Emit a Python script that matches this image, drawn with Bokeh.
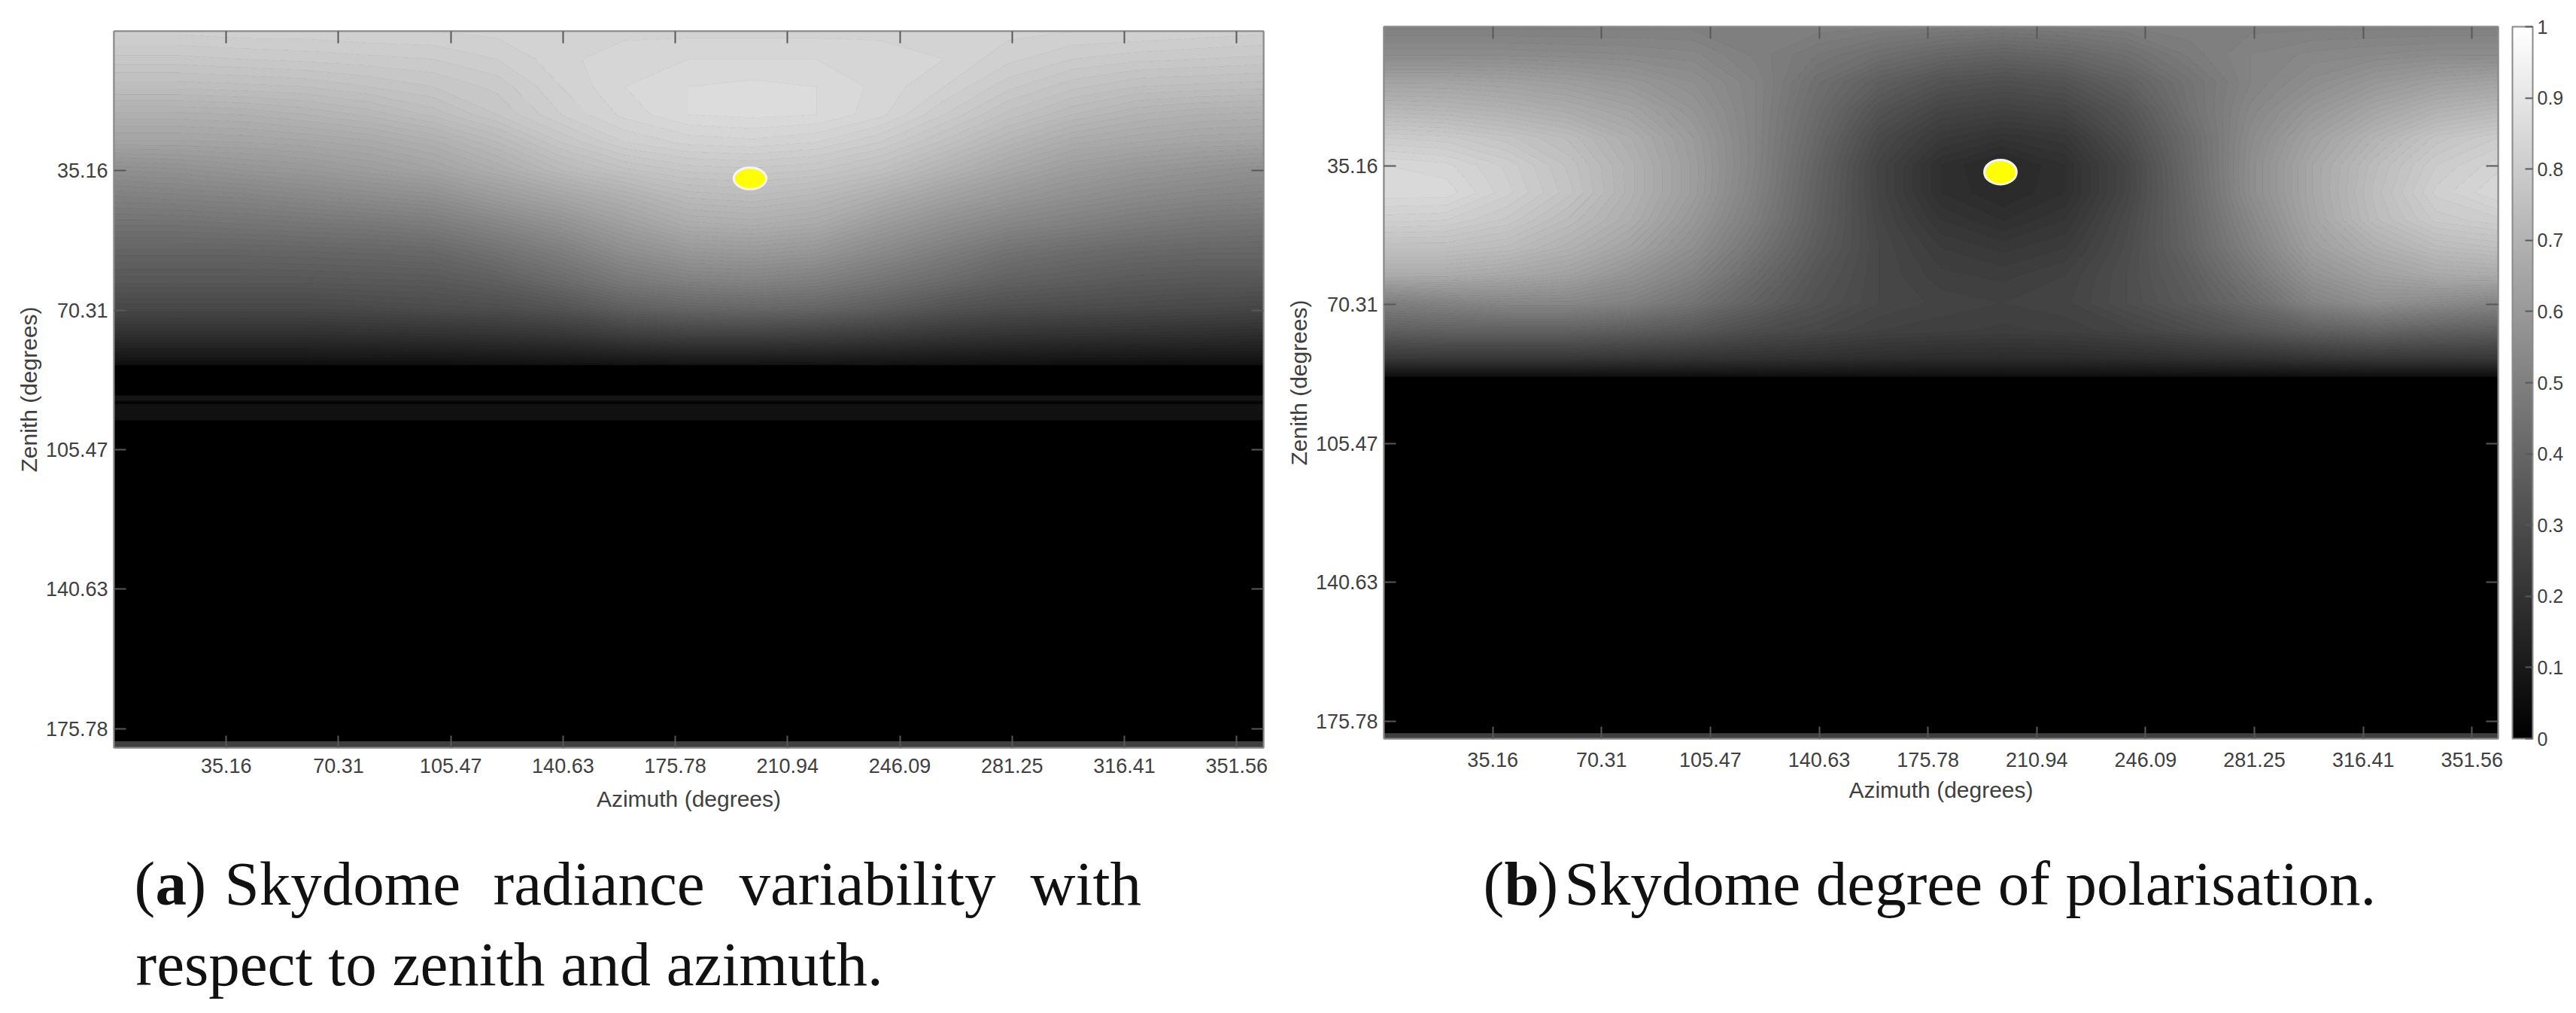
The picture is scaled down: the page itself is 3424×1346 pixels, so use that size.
import numpy as np
from bokeh.embed import file_html
from bokeh.resources import INLINE
from bokeh.plotting import figure
from bokeh.layouts import row, column
from bokeh.models import (LinearColorMapper, FixedTicker, LinearAxis, Label, ColorBar, Range1d)

# ---------- data ----------
x_ticks = [35.16, 70.31, 105.47, 140.63, 175.78, 210.94, 246.09, 281.25, 316.41, 351.56]
y_ticks = [35.16, 70.31, 105.47, 140.63, 175.78]
cbar_ticks = [0, 0.1, 0.2, 0.3, 0.4, 0.5, 0.6, 0.7, 0.8, 0.9, 1]

az_nodes = [0, 20, 40, 60, 80, 100, 120, 140, 160, 180, 200, 220, 240, 260, 280, 300, 320, 340, 360]
radiance_zen = [0, 7, 14, 21, 28, 35, 42, 49, 56, 63, 70, 77, 84.2]
polar_zen = [0, 7, 14, 21, 28, 35, 42, 49, 56, 63, 70, 77, 84, 88.6]

# grey level (0-255) read at each zenith (row) and azimuth (column)
radiance_levels = [
    [0xD0,0xD0,0xD1,0xD1,0xD2,0xD2,0xD3,0xD3,0xD4,0xD4,0xD4,0xD4,0xD4,0xD3,0xD3,0xD2,0xD2,0xD1,0xD0],
    [0xC8,0xC8,0xC9,0xCA,0xCB,0xCC,0xCF,0xD4,0xD7,0xD8,0xD8,0xD8,0xD7,0xD5,0xD0,0xCC,0xCA,0xC9,0xC8],
    [0xBE,0xBE,0xBF,0xC0,0xC3,0xC6,0xCA,0xD2,0xD8,0xDB,0xDC,0xDB,0xD7,0xD2,0xCA,0xC4,0xC0,0xBF,0xBE],
    [0xB0,0xB0,0xB1,0xB4,0xB8,0xBE,0xC6,0xCF,0xD6,0xDB,0xDC,0xDB,0xD6,0xCC,0xC2,0xBA,0xB4,0xB1,0xB0],
    [0xA4,0xA4,0xA5,0xA7,0xAA,0xB0,0xBA,0xC6,0xCF,0xD3,0xD4,0xD2,0xCC,0xC2,0xB6,0xAC,0xA8,0xA5,0xA4],
    [0x90,0x92,0x96,0x99,0x9E,0xA4,0xAE,0xBA,0xC2,0xC7,0xC8,0xC6,0xC0,0xB4,0xA8,0x9E,0x98,0x94,0x90],
    [0x80,0x82,0x84,0x88,0x8C,0x90,0x9C,0xA6,0xB0,0xBA,0xBC,0xB8,0xAE,0xA2,0x98,0x90,0x8A,0x86,0x84],
    [0x72,0x72,0x74,0x76,0x78,0x7C,0x86,0x92,0xA0,0xAC,0xAE,0xAA,0x9C,0x90,0x86,0x80,0x7A,0x76,0x74],
    [0x64,0x64,0x64,0x65,0x66,0x68,0x72,0x7E,0x8E,0x98,0x9A,0x96,0x8A,0x7E,0x72,0x6C,0x68,0x66,0x66],
    [0x58,0x58,0x58,0x58,0x59,0x5A,0x60,0x6C,0x7A,0x82,0x84,0x80,0x76,0x6C,0x62,0x5E,0x5A,0x58,0x58],
    [0x48,0x48,0x48,0x48,0x4A,0x4C,0x4E,0x54,0x60,0x66,0x68,0x66,0x5E,0x54,0x4E,0x4C,0x4A,0x48,0x46],
    [0x2E,0x2E,0x2E,0x2E,0x2F,0x30,0x32,0x35,0x3C,0x40,0x40,0x3E,0x3A,0x35,0x32,0x30,0x2F,0x2E,0x2C],
    [0x10,0x10,0x10,0x10,0x10,0x10,0x11,0x12,0x13,0x14,0x14,0x14,0x13,0x12,0x11,0x10,0x10,0x10,0x10],
]
polar_levels = [
    [0x80,0x80,0x80,0x80,0x80,0x80,0x80,0x80,0x7E,0x7C,0x7A,0x7C,0x7E,0x80,0x80,0x80,0x80,0x80,0x80],
    [0x8C,0x8C,0x8C,0x8B,0x8A,0x88,0x80,0x78,0x70,0x68,0x64,0x68,0x70,0x7C,0x84,0x88,0x8A,0x8C,0x8C],
    [0xA4,0xA4,0xA2,0x9E,0x98,0x90,0x84,0x70,0x60,0x54,0x50,0x54,0x62,0x74,0x84,0x8E,0x98,0xA0,0xA4],
    [0xB8,0xB6,0xB2,0xAC,0xA4,0x96,0x84,0x6C,0x54,0x46,0x42,0x46,0x56,0x72,0x88,0x98,0xA6,0xB2,0xB8],
    [0xCC,0xCA,0xC4,0xBC,0xAE,0x9C,0x84,0x68,0x4A,0x3A,0x34,0x38,0x4E,0x6C,0x8C,0xA2,0xB4,0xC4,0xCC],
    [0xD8,0xD6,0xCE,0xC2,0xB2,0x9E,0x84,0x64,0x44,0x30,0x28,0x30,0x46,0x6A,0x8E,0xA8,0xBC,0xCC,0xD4],
    [0xDA,0xDA,0xD0,0xC4,0xB2,0x9E,0x82,0x62,0x44,0x30,0x2A,0x30,0x46,0x68,0x8E,0xA8,0xBE,0xD0,0xD8],
    [0xD0,0xCF,0xC8,0xBC,0xAE,0x98,0x7E,0x60,0x46,0x36,0x30,0x36,0x4A,0x66,0x88,0xA6,0xBC,0xCA,0xCE],
    [0xC0,0xC0,0xBC,0xB2,0xA4,0x90,0x76,0x5C,0x48,0x3C,0x38,0x3C,0x4C,0x64,0x82,0xA0,0xB0,0xBC,0xC0],
    [0xAC,0xAC,0xA8,0xA2,0x94,0x84,0x6C,0x56,0x48,0x40,0x3E,0x42,0x4E,0x5E,0x78,0x94,0xA2,0xAA,0xAC],
    [0x80,0x84,0x88,0x88,0x82,0x74,0x62,0x52,0x48,0x44,0x42,0x44,0x4E,0x5A,0x6C,0x84,0x90,0x8C,0x86],
    [0x60,0x62,0x62,0x62,0x5E,0x58,0x4E,0x48,0x42,0x40,0x3E,0x40,0x44,0x4C,0x56,0x60,0x66,0x62,0x60],
    [0x38,0x38,0x38,0x38,0x36,0x34,0x32,0x30,0x2E,0x2C,0x2C,0x2C,0x2E,0x30,0x32,0x36,0x38,0x38,0x38],
    [0x10,0x10,0x10,0x10,0x10,0x10,0x10,0x10,0x10,0x10,0x10,0x10,0x10,0x10,0x10,0x10,0x10,0x10,0x10],
]
# horizontal bands below the sky: zenith from, zenith to, value
radiance_bands_from = [84.2, 91.8, 93.2, 94.0, 98.1, 179.0]
radiance_bands_to   = [91.8, 93.2, 94.0, 98.1, 179.0, 180.6]
radiance_bands_val  = [0.0, 0.08, 0.02, 0.07, 0.0, 0.25]
polar_bands_from = [88.6, 178.8]
polar_bands_to   = [178.8, 180.2]
polar_bands_val  = [0.0, 0.25]

sun_az = 199.2
sun_zen_a = 37.1
sun_zen_b = 36.8

caption_a_line1 = ["Skydome", "radiance", "variability", "with"]
caption_a_line2 = "respect to zenith and azimuth."
caption_b_rest = "Skydome degree of polarisation."
xlabel = "Azimuth (degrees)"
ylabel = "Zenith (degrees)"

# ---------- style ----------
grays = ["#%02x%02x%02x" % (i, i, i) for i in range(256)]
mapper = LinearColorMapper(palette=grays, low=0, high=1)
TICK = "#585858"
LINE = "#8a8a8a"
TXT = "#404040"
FONT = "Liberation Sans"
SERIF = "Liberation Serif"
contour_levels = list(range(0, 256, 3))
contour_fill = [grays[v + 1] for v in contour_levels[:-1]]
contour_line = [grays[v] for v in contour_levels]


def fmt(v):
    return "%.2f" % v


def panel(frame_w, frame_h, left, top, right, bottom, ymax, zen, levels,
          bf, bt, bv, sun_zen, sun_w, sun_h, tick_standoff, title_standoff):
    p = figure(frame_width=frame_w, frame_height=frame_h,
               min_border_left=left, min_border_top=top, min_border_right=right, min_border_bottom=bottom,
               x_range=Range1d(0, 360), y_range=Range1d(ymax, 0),
               output_backend="svg", toolbar_location=None, tools="")
    p.grid.visible = False
    p.background_fill_color = "#000000"
    p.outline_line_color = LINE
    p.outline_line_width = 2
    p.contour(x=az_nodes, y=zen, z=np.array(levels, dtype=float), levels=contour_levels,
              fill_color=contour_fill, line_color=contour_line, line_width=1)
    p.quad(left=0, right=360, top=bf, bottom=bt, fill_color=[grays[int(v * 255)] for v in bv], line_color=None)
    p.ellipse(x=[sun_az], y=[sun_zen], width=sun_w, height=sun_h, fill_color="#ffff00", line_color="#f4f4f4", line_width=3)

    xa, ya = p.xaxis[0], p.yaxis[0]
    xa.ticker = FixedTicker(ticks=x_ticks)
    ya.ticker = FixedTicker(ticks=y_ticks)
    xa.major_label_overrides = {t: fmt(t) for t in x_ticks}
    ya.major_label_overrides = {t: fmt(t) for t in y_ticks}
    xa.axis_label = xlabel
    ya.axis_label = ylabel
    for a in (xa, ya):
        a.major_tick_in = 16
        a.major_tick_out = 0
        a.minor_tick_in = 0
        a.minor_tick_out = 0
        a.major_tick_line_color = TICK
        a.major_tick_line_width = 2
        a.axis_line_color = LINE
        a.axis_line_width = 2
        a.major_label_text_font = FONT
        a.major_label_text_font_size = "27px"
        a.major_label_text_color = TXT
        a.axis_label_text_font = FONT
        a.axis_label_text_font_size = "30px"
        a.axis_label_text_font_style = "normal"
        a.axis_label_text_color = TXT
    xa.major_label_standoff = tick_standoff
    ya.major_label_standoff = 8
    xa.axis_label_standoff = title_standoff
    ya.axis_label_standoff = 3
    ya.major_label_orientation = "horizontal"

    for side, ticks in (("above", x_ticks), ("right", y_ticks)):
        ax = LinearAxis(ticker=FixedTicker(ticks=ticks), major_tick_in=16, major_tick_out=0,
                        minor_tick_in=0, minor_tick_out=0,
                        major_tick_line_color=TICK, major_tick_line_width=2,
                        axis_line_color=LINE, axis_line_width=2,
                        major_label_text_font_size="0px", major_label_standoff=0,
                        major_label_overrides={t: "" for t in ticks})
        p.add_layout(ax, side)
    return p


p1 = panel(1528, 952, 151, 35, 33, 87, 180.6, radiance_zen, radiance_levels,
           radiance_bands_from, radiance_bands_to, radiance_bands_val, sun_zen_a, 10.2, 5.4, 14, 15)
p1.margin = (6, 0, 0, 0)
p2 = panel(1481, 946, 121, 35, 30, 99, 180.2, polar_zen, polar_levels,
           polar_bands_from, polar_bands_to, polar_bands_val, sun_zen_b, 10.4, 6.2, 18, 11)
p2.margin = (0, 0, 0, -6)

cb = ColorBar(color_mapper=mapper, ticker=FixedTicker(ticks=cbar_ticks), width=27, height=946,
              padding=0, margin=0, location=(19, 0), bar_line_color=LINE, bar_line_width=2,
              major_tick_in=10, major_tick_line_color=TICK, major_tick_line_width=2,
              minor_tick_line_color=None,
              label_standoff=6, major_label_text_font=FONT, major_label_text_font_size="25px",
              major_label_text_color=TXT, border_line_color=None, background_fill_color=None)
p2.add_layout(cb, "right")

# captions live in their own strip under the two panels
STRIP_TOP, STRIP_H = 1080, 260
strip = figure(frame_width=3420, frame_height=STRIP_H, x_range=Range1d(0, 3420), y_range=Range1d(0, STRIP_H),
               min_border_left=0, min_border_right=0, min_border_top=0, min_border_bottom=0,
               output_backend="svg", toolbar_location=None, tools="", outline_line_color=None)
strip.xaxis.visible = False
strip.yaxis.visible = False
strip.grid.visible = False


def cap(text, x, baseline, bold=False):
    strip.add_layout(Label(x=x, y=STRIP_TOP + STRIP_H - baseline,
                           text=text, text_font=SERIF, text_font_size="83px", text_color="#111111",
                           text_font_style="bold" if bold else "normal", text_baseline="alphabetic"))


B1, B2 = 1173, 1280
cap("(", 178, B1)
cap("a", 206, B1, bold=True)
cap(")", 246, B1)
for w, x in zip(caption_a_line1, [298, 655, 982, 1369]):
    cap(w, x, B1)
cap(caption_a_line2, 180, B2)
cap("(", 1971, B1)
cap("b", 1999, B1, bold=True)
cap(")", 2043, B1)
cap(caption_b_rest, 2079, B1)

open("out.html", "w").write(file_html(column(row(p1, p2, spacing=0), strip, spacing=0), INLINE))
